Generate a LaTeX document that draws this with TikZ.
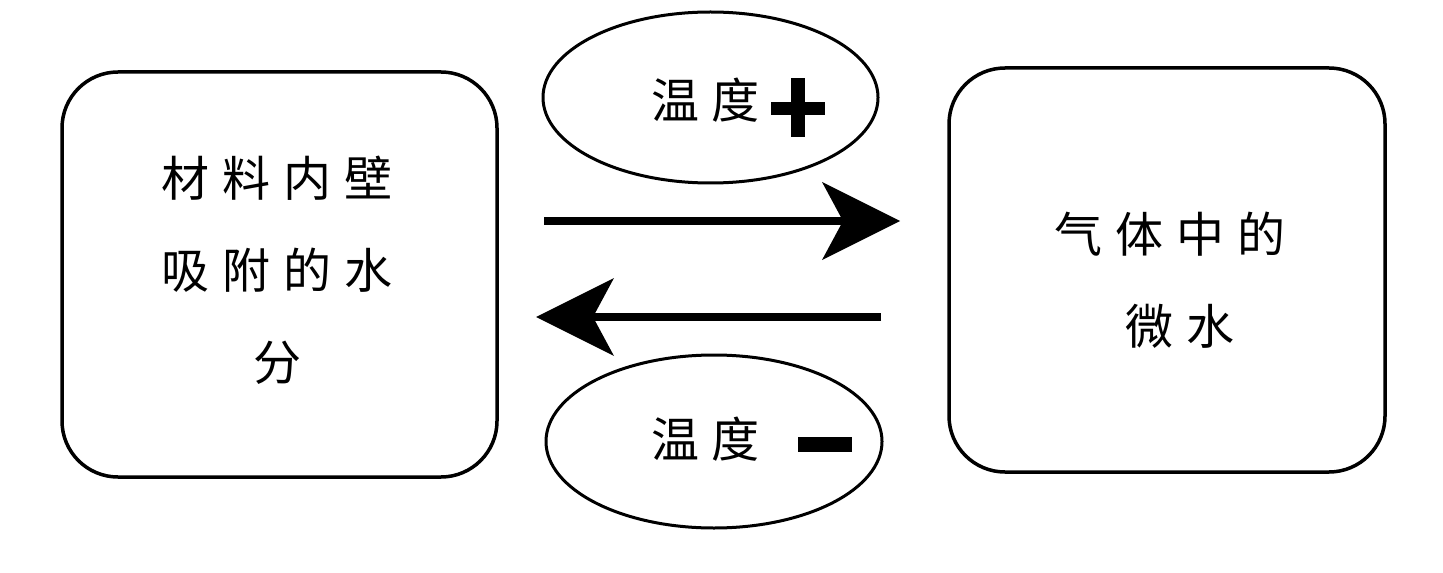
\documentclass[tikz,border=0pt]{standalone}
\usepackage{fontspec}
\newfontfamily\cjk{Noto Sans CJK SC}
\usetikzlibrary{arrows.meta,shapes.geometric}
\newcommand{\gp}{\hspace{6.5pt}}
\newcommand{\gq}{\hspace{6pt}}
\begin{document}
\begin{tikzpicture}[x=0.5pt,y=-0.5pt,
  box/.style={draw, line width=1.75pt, rounded corners=28pt, inner sep=0pt},
  oval/.style={draw, ellipse, line width=1.5pt, inner sep=0pt},
  label/.style={inner sep=0pt, align=center, font=\cjk\fontsize{24pt}{46pt}\selectfont},
  bigarrow/.style={line width=4pt, -{Stealth[length=39pt,width=39pt,inset=10.5pt,line width=0pt]}},
  sign/.style={fill=black}
]
\useasboundingbox (0,0) rectangle (1443,572);
% boxes
\node[box, minimum width=217.5pt, minimum height=202.5pt] (left) at (279.5,274.5) {};
\node[box, minimum width=218pt, minimum height=202pt] (right) at (1167,270) {};
\node[label] (lefttext) at (277,270.5) {材\gp{}料\gp{}内\gp{}壁\\吸\gp{}附\gp{}的\gp{}水\\分};
\node[label] (righttext) at (1170,280) {气\gp{}体\gp{}中\gp{}的\\\hspace*{10pt}微\gp{}水};
% ellipses
\node[oval, minimum width=167.5pt, minimum height=85.5pt] (top) at (710.5,97.5) {};
\node[oval, minimum width=168pt, minimum height=86.5pt] (bottom) at (714,441.5) {};
\node[label] (toptext) at (705,100) {温\gq{}度};
\node[label] (bottomtext) at (705,439) {温\gq{}度};
% plus and minus
\fill[sign] (771,102) rectangle (825,115);
\fill[sign] (791,78) rectangle (805,137);
\fill[sign] (798,437) rectangle (852,452);
% arrows
\coordinate (r1) at (544,221);
\coordinate (r2) at (900,221);
\coordinate (l1) at (881,317);
\coordinate (l2) at (536,317);
\draw[bigarrow] (r1) -- (r2);
\draw[bigarrow] (l1) -- (l2);
\end{tikzpicture}
\end{document}
